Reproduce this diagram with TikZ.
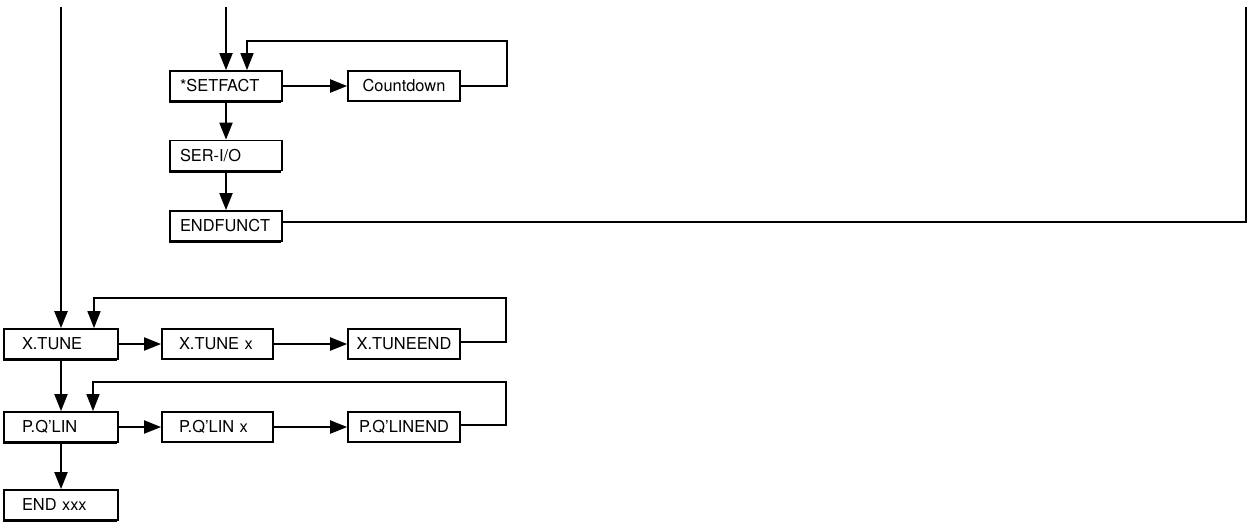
\documentclass[tikz,border=0pt]{standalone}
\usepackage{fontspec}
\setmainfont{TeX Gyre Heros}
\usetikzlibrary{arrows.meta, shadows}

\tikzset{
  menubox/.style={draw, fill=white, line width=0.9pt, minimum height=15pt,
                  align=left, font=\fontsize{8.2}{9.6}\selectfont},
  shadowed/.style={general shadow={fill=black, shadow xshift=-0.5pt, shadow yshift=-1pt}},
  mainbox/.style={menubox, shadowed, inner xsep=5pt, text width=46pt},
  leftbox/.style={menubox, shadowed, inner xsep=9pt, text width=39pt},
  subbox/.style={menubox, inner xsep=8.5pt, text width=38.5pt},
  endbox/.style={menubox, line width=0.8pt, align=center, minimum width=56pt, inner xsep=1.5pt},
  flow/.style={line width=1pt, -{Triangle[length=8.5pt, width=6.5pt]}},
  loop/.style={line width=0.75pt, -{Triangle[length=8.5pt, width=6.5pt]}}
}

\begin{document}
\begin{tikzpicture}[x=0.5pt, y=-0.5pt]
  \useasboundingbox (0,0) rectangle (1252,526);
  % Upper menu column
  \node[mainbox] (setfact)  at (226,86)    {*SETFACT};
  \node[endbox]  (countdown) at (404,86)   {Countdown};
  \node[mainbox] (serio)    at (226,155.5) {SER-I/O};
  \node[mainbox] (endfunct) at (226,226)   {ENDFUNCT};
  % Lower menu column
  \node[leftbox] (xtune)    at (61,344)    {X.TUNE};
  \node[subbox]  (xtunex)   at (217.5,344) {X.TUNE x};
  \node[endbox]  (xtuneend) at (404,344)   {X.TUNEEND};
  \node[leftbox] (pqlin)    at (61,427)    {P.Q'LIN};
  \node[subbox]  (pqlinx)   at (217.5,427) {P.Q'LIN x};
  \node[endbox]  (pqlinend) at (404,427)   {P.Q'LINEND};
  \node[leftbox] (endxxx)   at (61,505)    {END xxx};
  % Entry and exit lines
  \coordinate (inL) at (61,7);
  \coordinate (inS) at (226,7);
  \coordinate (outR) at (1246,7);
  \draw[flow, line width=1.2pt] (inL) -- (inL |- xtune.north);
  \draw[flow] (inS) -- (inS |- setfact.north);
  \draw[line width=1.2pt] ([yshift=2pt]endfunct.east) -- ([yshift=2pt]endfunct.east -| outR) -- (outR);
  % Setfact branch
  \draw[flow] (setfact) -- (countdown);
  \draw[flow] (setfact) -- (serio);
  \draw[flow] (serio) -- (endfunct);
  \coordinate (sloop) at (247,41);
  \draw[loop] (countdown.east) -- ++(46,0) |- (sloop) -- (sloop |- setfact.north);
  % Tune branch
  \draw[flow] (xtune) -- (xtunex);
  \draw[flow] (xtunex) -- (xtuneend);
  \coordinate (xloop) at (94,298);
  \draw[loop] ([yshift=1pt]xtuneend.east) -- ++(45,0) |- (xloop) -- (xloop |- xtune.north);
  \draw[flow] (xtune) -- (pqlin);
  % Linearisation branch
  \draw[flow] (pqlin) -- (pqlinx);
  \draw[flow] (pqlinx) -- (pqlinend);
  \coordinate (ploop) at (93,382);
  \draw[loop] ([yshift=1pt]pqlinend.east) -- ++(45,0) |- (ploop) -- (ploop |- pqlin.north);
  \draw[flow] (pqlin) -- (endxxx);
\end{tikzpicture}
\end{document}
